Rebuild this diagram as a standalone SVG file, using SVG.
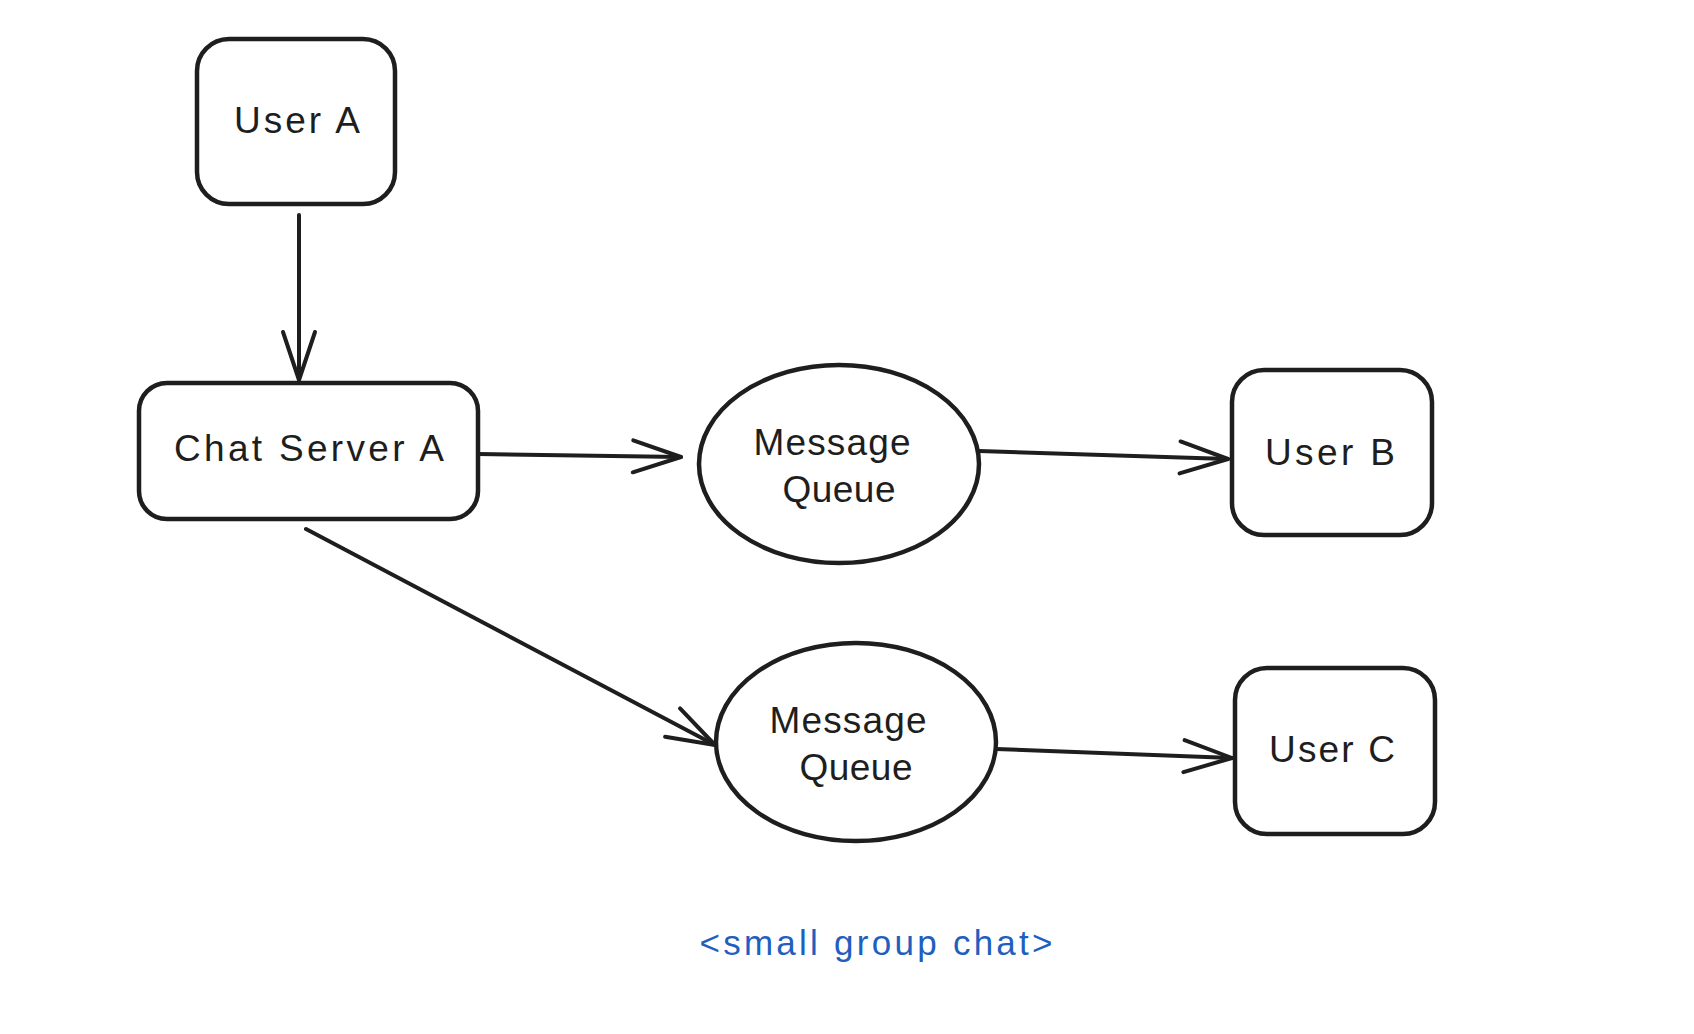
<svg xmlns="http://www.w3.org/2000/svg" width="1694" height="1034" viewBox="0 0 1694 1034">
<style>
.shape{fill:none;stroke:#1e1e1e;stroke-width:4.5;stroke-linejoin:round}
.lbl{font-family:"Liberation Sans",Arial,sans-serif;font-size:37px;fill:#1e1e1e;text-anchor:middle;dominant-baseline:central}
.conn{fill:none;stroke:#1e1e1e;stroke-width:4;stroke-linecap:round}
.cap{font-family:"Liberation Sans",Arial,sans-serif;font-size:35px;fill:#1f5fbf;text-anchor:middle;dominant-baseline:central}
</style>
<defs>
<marker id="arr" markerUnits="userSpaceOnUse" markerWidth="70" markerHeight="50" viewBox="-55 -25 70 50" refX="0" refY="0" orient="auto">
<path d="M-48,-16 L0,0 L-48,16" fill="none" stroke="#1e1e1e" stroke-width="4" stroke-linecap="round" stroke-linejoin="round"/>
</marker>
</defs>
<rect width="1694" height="1034" fill="#ffffff"/>
<g id="userA">
<rect class="shape" x="197" y="39" width="198" height="165" rx="32"/>
<text class="lbl" x="297" y="120" textLength="126" lengthAdjust="spacing">User A</text>
</g>
<g id="chatServerA">
<rect class="shape" x="139" y="383" width="339" height="136" rx="28"/>
<text class="lbl" x="309" y="448" textLength="270" lengthAdjust="spacing">Chat Server A</text>
</g>
<g id="messageQueue1">
<ellipse class="shape" cx="839" cy="464" rx="140" ry="99"/>
<text class="lbl" x="832" y="442" textLength="157" lengthAdjust="spacing">Message</text>
<text class="lbl" x="839" y="489" textLength="113" lengthAdjust="spacing">Queue</text>
</g>
<g id="userB">
<rect class="shape" x="1232" y="370" width="200" height="165" rx="32"/>
<text class="lbl" x="1330" y="452" textLength="130" lengthAdjust="spacing">User B</text>
</g>
<g id="messageQueue2">
<ellipse class="shape" cx="856" cy="742" rx="140" ry="99"/>
<text class="lbl" x="848" y="720" textLength="157" lengthAdjust="spacing">Message</text>
<text class="lbl" x="856" y="767" textLength="113" lengthAdjust="spacing">Queue</text>
</g>
<g id="userC">
<rect class="shape" x="1235" y="668" width="200" height="166" rx="32"/>
<text class="lbl" x="1332" y="749" textLength="126" lengthAdjust="spacing">User C</text>
</g>
<g id="connectors">
<line class="conn" x1="299" y1="215" x2="299" y2="380" marker-end="url(#arr)"/>
<line class="conn" x1="478" y1="454" x2="681" y2="457" marker-end="url(#arr)"/>
<line class="conn" x1="979" y1="451" x2="1228" y2="459" marker-end="url(#arr)"/>
<line class="conn" x1="306" y1="529" x2="715" y2="745" marker-end="url(#arr)"/>
<line class="conn" x1="996" y1="749" x2="1232" y2="758" marker-end="url(#arr)"/>
</g>
<g id="caption">
<text class="cap" x="876" y="942" textLength="353" lengthAdjust="spacing">&lt;small group chat&gt;</text>
</g>
</svg>
